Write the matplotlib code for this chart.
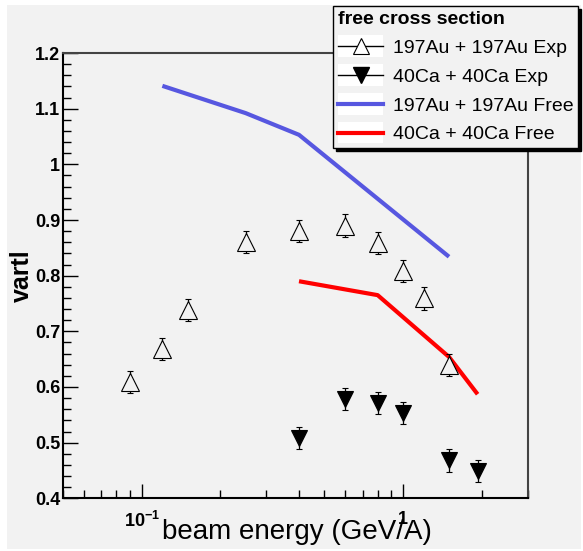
import matplotlib
matplotlib.use("Agg")
import matplotlib.pyplot as plt
import numpy as np
from matplotlib.lines import Line2D
from matplotlib.patches import Rectangle
from matplotlib.legend_handler import HandlerLine2D
from matplotlib.ticker import MultipleLocator, FixedLocator, FuncFormatter, NullFormatter, LogLocator

plt.rcParams['font.family'] = ['Liberation Sans', 'DejaVu Sans']
plt.rcParams['mathtext.fontset'] = 'custom'
plt.rcParams['mathtext.bf'] = 'Liberation Sans:bold'
plt.rcParams['mathtext.rm'] = 'Liberation Sans:bold'

# experimental points
au_energy = [0.09, 0.12, 0.15, 0.25, 0.4, 0.6, 0.8, 1.0, 1.2, 1.5]
au_vartl = [0.609, 0.668, 0.738, 0.860, 0.880, 0.890, 0.859, 0.809, 0.759, 0.640]
au_err = [0.02] * len(au_energy)

ca_energy = [0.4, 0.6, 0.8, 1.0, 1.5, 1.93]
ca_vartl = [0.509, 0.579, 0.571, 0.553, 0.468, 0.449]
ca_err = [0.02] * len(ca_energy)

# free cross section curves
au_free_energy = [0.12, 0.25, 0.4, 1.5]
au_free_vartl = [1.141, 1.092, 1.053, 0.834]
ca_free_energy = [0.4, 0.8, 1.5, 1.93]
ca_free_vartl = [0.790, 0.765, 0.654, 0.587]

bg = '#f2f2f2'
blue = '#5757e0'
red = '#ff0000'


class BoxHandler(HandlerLine2D):
    # ROOT style legend sample with white box behind
    def create_artists(self, legend, orig_handle, xdescent, ydescent, width, height, fontsize, trans):
        box = Rectangle((-xdescent, -ydescent - 0.3 * height), width, 1.6 * height,
                        facecolor='white', edgecolor='none', transform=trans)
        arts = super().create_artists(legend, orig_handle, xdescent, ydescent, width, height, fontsize, trans)
        return [box] + arts


fig = plt.figure(figsize=(5.83, 5.51), dpi=100)
fig.patch.set_facecolor('white')
fig.add_artist(Rectangle((7 / 583, 2 / 551), 574 / 583, 544 / 551, transform=fig.transFigure,
                         facecolor=bg, edgecolor='none', zorder=-10))
ax = fig.add_axes([0.1081, 0.0956, 0.797, 0.8082])
ax.set_facecolor(bg)

ax.plot(au_free_energy, au_free_vartl, color=blue, lw=3, solid_capstyle='butt', zorder=2)
ax.plot(ca_free_energy, ca_free_vartl, color=red, lw=3, solid_capstyle='butt', zorder=2)

ax.errorbar(au_energy, au_vartl, yerr=au_err, fmt='^', ms=13, mfc=bg, mec='black', mew=0.8,
            ecolor='black', elinewidth=0.9, capsize=2.2, capthick=0.9, zorder=3)
ax.errorbar(ca_energy, ca_vartl, yerr=ca_err, fmt='v', ms=11, mfc='black', mec='black', mew=0.8,
            ecolor='black', elinewidth=0.9, capsize=2.2, capthick=0.9, zorder=3)

ax.set_xscale('log')
ax.set_xlim(0.05, 3)
ax.set_ylim(0.4, 1.2)

ax.xaxis.set_major_locator(FixedLocator([0.1, 1]))
ax.xaxis.set_minor_locator(LogLocator(base=10, subs=np.arange(2, 10)))
ax.xaxis.set_major_formatter(FuncFormatter(lambda v, p: r'$\mathbf{10^{-1}}$' if v < 0.5 else r'$\mathbf{1}$'))
ax.xaxis.set_minor_formatter(NullFormatter())
ax.yaxis.set_major_locator(MultipleLocator(0.1))
ax.yaxis.set_minor_locator(MultipleLocator(0.02))
ax.yaxis.set_major_formatter(FuncFormatter(lambda v, p: f'{round(v, 2):g}'))

ax.tick_params(which='both', direction='in', top=False, right=False, width=1)
ax.tick_params(axis='x', which='major', length=10, pad=9, labelsize=13)
ax.tick_params(axis='y', which='major', length=11, pad=2, labelsize=13)
ax.tick_params(which='minor', length=5.5)
for lbl in ax.get_yticklabels():
    lbl.set_fontweight('bold')

for side in ['left', 'bottom']:
    ax.spines[side].set_linewidth(1.5)
    ax.spines[side].set_color('black')
for side in ['top', 'right']:
    ax.spines[side].set_linewidth(1.5)
    ax.spines[side].set_color('#444444')

ax.set_xlabel('beam energy (GeV/A)', fontsize=20)
ax.xaxis.set_label_coords(0.503, -0.046)
ax.set_ylabel('vartl', fontsize=18, fontweight='bold')
ax.yaxis.set_label_coords(-0.062, 0.5)

handles = [
    Line2D([], [], color='black', lw=1, marker='^', ms=12, mfc='white', mec='black', mew=0.8),
    Line2D([], [], color='black', lw=1, marker='v', ms=11, mfc='black', mec='black'),
    Line2D([], [], color=blue, lw=3),
    Line2D([], [], color=red, lw=3),
]
labels = ['197Au + 197Au Exp', '40Ca + 40Ca Exp', '197Au + 197Au Free', '40Ca + 40Ca Free']
leg = ax.legend(handles, labels, loc='lower left', bbox_to_anchor=(0.5717, 0.7309),
                bbox_transform=fig.transFigure, borderaxespad=0, fontsize=14,
                title='free cross section', title_fontproperties={'weight': 'bold', 'size': 14},
                alignment='left', handlelength=2.3, handletextpad=0.5, labelspacing=0.58,
                borderpad=0.25, fancybox=False, framealpha=1, facecolor=bg, edgecolor='black',
                shadow={'color': 'black', 'alpha': 1},
                handler_map={Line2D: BoxHandler()})
leg.get_frame().set_linewidth(1)

fig.savefig('out.png', dpi=100, facecolor=fig.get_facecolor())
